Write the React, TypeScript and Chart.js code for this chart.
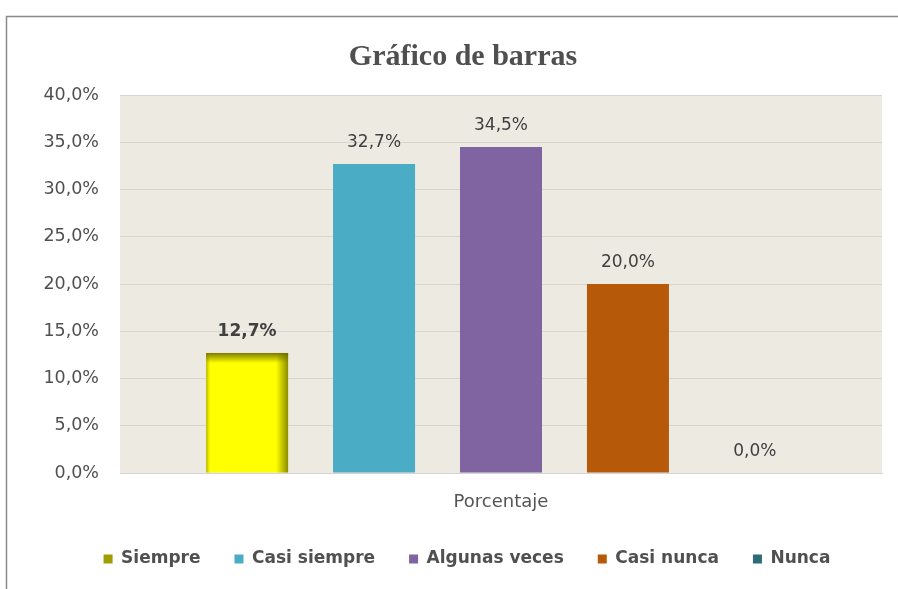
import React, { useEffect, useRef } from "react";
import { Chart, registerables } from "chart.js";

Chart.register(...registerables);

const title = "Gráfico de barras";
const categories = ["Porcentaje"];
const seriesNames = ["Siempre", "Casi siempre", "Algunas veces", "Casi nunca", "Nunca"];
const seriesValues = [12.7, 32.7, 34.5, 20.0, 0.0];
const seriesColors = ["#FFFF00", "#4BACC6", "#8064A2", "#B65A0A", "#2D6B79"];
const legendColors = ["#9E9E00", "#4BACC6", "#8064A2", "#B65A0A", "#2D6B79"];
const yMin = 0;
const yMax = 40;
const yStep = 5;

const fmt = (v: number) => v.toFixed(1).replace(".", ",") + "%";

const decorPlugin = {
  id: "decor",
  afterLayout(chart: any) {
    const lg = chart.legend;
    if (lg) {
      lg.left += 7;
      lg.right += 7;
    }
  },
  beforeDraw(chart: any) {
    const { ctx, chartArea, width, height } = chart;
    ctx.save();
    ctx.fillStyle = "#FFFFFF";
    ctx.fillRect(0, 0, width, height);
    ctx.strokeStyle = "#8A8A8A";
    ctx.lineWidth = 1.5;
    ctx.beginPath();
    ctx.moveTo(6.5, height);
    ctx.lineTo(6.5, 16.5);
    ctx.lineTo(width, 16.5);
    ctx.stroke();
    ctx.fillStyle = "#ECEAE1";
    ctx.fillRect(chartArea.left, chartArea.top, chartArea.right - chartArea.left, chartArea.bottom - chartArea.top);
    ctx.fillStyle = "#4F4F4F";
    ctx.font = "bold 30px 'Liberation Serif'";
    ctx.textAlign = "center";
    ctx.textBaseline = "middle";
    ctx.fillText(title, (chartArea.left + chartArea.right) / 2 - 38, 57);
    ctx.restore();
  },
  afterDatasetsDraw(chart: any) {
    const { ctx } = chart;
    ctx.save();
    // shading on the first (yellow) bar
    const m0 = chart.getDatasetMeta(0);
    const b = m0.data[0];
    if (b) {
      const left = b.x - b.width / 2;
      const right = b.x + b.width / 2;
      const top = b.y;
      const bottom = b.base;
      let g = ctx.createLinearGradient(right - 12, 0, right, 0);
      g.addColorStop(0, "rgba(120,120,0,0)");
      g.addColorStop(1, "rgba(120,120,0,0.85)");
      ctx.fillStyle = g;
      ctx.fillRect(right - 12, top, 12, bottom - top);
      g = ctx.createLinearGradient(0, top, 0, top + 10);
      g.addColorStop(0, "rgba(110,110,0,0.9)");
      g.addColorStop(1, "rgba(110,110,0,0)");
      ctx.fillStyle = g;
      ctx.fillRect(left, top, right - left, 10);
      g = ctx.createLinearGradient(left, 0, left + 4, 0);
      g.addColorStop(0, "rgba(120,120,0,0.5)");
      g.addColorStop(1, "rgba(120,120,0,0)");
      ctx.fillStyle = g;
      ctx.fillRect(left, top, 4, bottom - top);
    }
    // value labels
    ctx.textAlign = "center";
    ctx.textBaseline = "middle";
    ctx.fillStyle = "#404040";
    chart.data.datasets.forEach((ds: any, i: number) => {
      const meta = chart.getDatasetMeta(i);
      const el = meta.data[0];
      if (!el) return;
      ctx.font = (i === 0 ? "bold " : "") + "17px 'DejaVu Sans'";
      ctx.fillText(fmt(ds.data[0]), el.x, el.y - 21);
    });
    ctx.restore();
  },
};

export default function App() {
  const ref = useRef<HTMLCanvasElement>(null);
  useEffect(() => {
    if (!ref.current) return;
    const chart = new Chart(ref.current, {
      type: "bar",
      data: {
        labels: categories,
        datasets: seriesNames.map((name, i) => ({
          label: name,
          data: [seriesValues[i]],
          backgroundColor: seriesColors[i],
          borderWidth: 0,
          categoryPercentage: 0.833,
          barPercentage: 0.646,
        })),
      },
      options: {
        responsive: false,
        animation: false,
        layout: { padding: { top: 95, left: 38, right: 16, bottom: 11.5 } },
        plugins: {
          title: { display: false },
          tooltip: { enabled: false },
          legend: {
            position: "bottom",
            labels: {
              boxWidth: 9,
              boxHeight: 9,
              padding: 34,
              color: "#505050",
              font: { family: "'DejaVu Sans'", size: 17, weight: "bold" },
              generateLabels: (chart: any) =>
                chart.data.datasets.map((ds: any, i: number) => ({
                  text: ds.label,
                  fillStyle: legendColors[i],
                  strokeStyle: legendColors[i],
                  lineWidth: 0,
                  hidden: false,
                  datasetIndex: i,
                  fontColor: "#505050",
                })),
            },
          },
        },
        scales: {
          x: {
            grid: { display: false, drawTicks: false },
            border: { display: true, color: "#D4D4D4" },
            ticks: { color: "#555555", font: { family: "'DejaVu Sans'", size: 18 }, padding: 18.5 },
            afterFit: (s: any) => { s.height = 43.5; },
          },
          y: {
            min: yMin,
            max: yMax,
            grid: { color: "#D6D6D0", drawTicks: false },
            border: { display: false },
            ticks: {
              stepSize: yStep,
              color: "#505050",
              font: { family: "'DejaVu Sans'", size: 17.5 },
              padding: 21,
              callback: (v: any) => fmt(Number(v)),
            },
            afterFit: (s: any) => { s.width = 82; },
          },
        },
      },
      plugins: [decorPlugin],
    } as any);
    return () => chart.destroy();
  }, []);
  return (
    <div style={{ position: "fixed", left: 0, top: 0, width: 898, height: 589 }}>
      <canvas ref={ref} width={898} height={589} style={{ width: 898, height: 589, display: "block" }} />
    </div>
  );
}
